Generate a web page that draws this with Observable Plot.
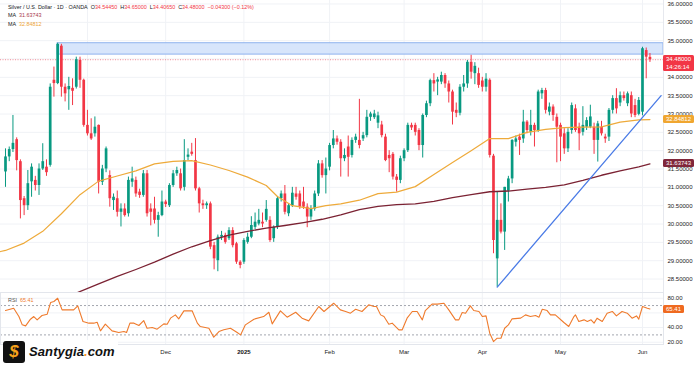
<!DOCTYPE html>
<html><head><meta charset="utf-8">
<script src="https://cdn.jsdelivr.net/npm/d3@7"></script>
<script src="https://cdn.jsdelivr.net/npm/@observablehq/plot@0.6"></script>
<style>
body{margin:0;background:#fff;font-family:"Liberation Sans",Arial,sans-serif;}
#wrap{position:relative;width:700px;height:365px;overflow:hidden;background:#fff;}
.abs{position:absolute;}
.hdr{position:absolute;left:8px;font-size:5.4px;line-height:8px;color:#131722;white-space:nowrap;}
.tag{position:absolute;left:663px;color:#fff;font-size:6px;line-height:8px;padding:0 3px;border-radius:1.5px;white-space:nowrap;}
</style></head><body><div id="wrap"></div>
<script>
// ---------- data ----------
const opens = [31.42,31.83,32.03,32.30,31.70,30.69,30.50,31.15,31.19,31.05,
31.50,31.55,31.60,33.92,33.83,34.85,33.73,33.66,33.70,33.73,
34.46,33.92,32.69,32.46,32.46,32.69,31.14,31.50,31.32,30.64,
30.69,30.32,30.41,30.28,31.14,31.19,30.87,30.78,31.37,30.41,
30.41,30.10,30.23,30.60,30.50,31.05,31.37,31.37,31.00,31.82,
31.96,31.73,30.96,30.55,30.50,30.55,29.41,29.00,29.64,29.69,
29.60,29.82,29.46,28.96,28.96,29.50,29.64,29.91,30.00,30.05,
30.10,30.10,29.60,29.91,30.69,30.82,30.28,30.50,30.82,30.82,
30.60,30.46,30.19,30.41,30.82,31.64,31.32,31.55,32.14,32.32,
32.23,31.78,32.10,31.87,32.28,32.28,32.32,32.41,32.91,32.90,
32.75,32.70,32.37,31.87,31.90,31.28,31.19,31.78,32.00,32.69,
32.69,32.55,32.14,32.96,33.28,33.91,33.87,33.87,34.05,33.82,
33.60,33.10,33.02,33.73,33.82,34.41,34.10,34.10,33.90,33.73,
33.92,31.85,29.05,30.10,29.78,30.90,31.23,32.23,32.37,32.32,
32.78,32.50,32.69,32.55,33.55,33.64,33.05,33.19,32.91,32.69,
32.46,32.05,32.55,33.14,32.64,32.50,32.64,32.64,32.64,32.28,
32.64,32.37,32.37,33.10,33.42,33.30,33.50,33.28,33.50,33.23,
32.99,33.05,34.73,34.5445];
const highs = [32.05,32.10,32.96,32.35,31.75,30.75,31.46,31.64,31.30,31.64,
32.19,31.75,33.82,34.28,34.93,34.90,33.82,34.00,33.96,34.55,
34.55,33.95,33.10,32.87,32.92,32.70,31.60,32.10,31.45,30.82,
30.90,30.55,30.55,31.28,31.55,31.28,30.95,31.46,31.46,30.55,
30.73,30.32,30.90,30.65,31.10,31.46,31.55,31.50,32.30,32.05,
32.20,32.33,31.00,30.65,30.60,30.60,29.50,29.70,29.80,29.75,
29.90,29.90,29.50,29.00,29.60,29.75,30.20,30.30,30.40,30.30,
30.64,30.20,29.95,30.75,30.90,31.05,30.55,31.00,31.00,30.90,
31.00,30.55,30.50,30.90,31.73,31.73,31.80,32.20,32.55,32.40,
32.30,32.05,32.40,32.35,32.45,33.40,32.50,33.10,33.05,33.10,
33.05,32.80,32.45,32.00,31.95,31.35,31.85,32.05,32.75,32.75,
32.75,32.60,33.00,33.35,33.95,34.10,34.00,34.14,34.10,33.90,
33.65,33.30,33.80,34.05,34.46,34.60,34.40,34.25,34.00,34.10,
33.96,31.90,30.87,30.55,31.00,31.30,32.30,32.40,32.45,33.10,
32.82,33.10,32.75,33.65,33.70,33.70,33.30,33.25,33.00,32.75,
32.60,32.60,33.30,33.25,32.75,33.20,32.90,33.24,32.75,32.80,
32.80,32.45,33.15,33.50,33.69,33.60,33.60,33.60,33.60,33.40,
33.45,34.82,34.80,34.65];
const lows = [31.00,31.70,31.95,31.45,30.14,30.23,30.37,30.73,30.90,30.78,
31.46,31.30,31.55,33.46,33.80,33.46,33.33,33.10,33.23,33.68,
33.70,32.64,32.40,32.28,32.37,30.82,31.05,31.40,30.46,30.37,
30.19,29.92,30.19,30.19,31.00,30.73,30.70,30.73,30.19,29.95,
30.00,29.64,30.20,30.45,30.45,31.00,31.30,30.90,30.90,31.73,
31.85,30.90,30.30,30.40,30.40,29.30,28.75,28.70,29.55,29.45,
29.55,29.35,28.90,28.78,28.90,29.45,29.60,29.85,29.95,29.90,
30.05,29.50,29.50,29.85,30.60,30.25,30.20,30.45,30.65,30.40,
30.40,29.90,30.10,30.35,30.75,31.25,30.82,31.45,32.05,32.15,
31.28,31.70,31.28,31.80,32.20,32.05,32.25,32.35,32.80,32.85,
32.60,32.35,31.70,31.40,31.20,30.87,31.10,31.70,31.95,32.55,
32.40,32.00,31.80,32.90,33.20,33.60,33.50,33.80,33.70,33.30,
32.70,32.90,32.95,33.60,33.70,33.95,33.80,33.70,33.60,33.60,
31.80,29.19,28.28,29.73,29.28,30.60,31.10,32.10,31.87,32.20,
32.46,32.40,32.10,32.50,33.40,33.00,32.95,32.80,31.67,31.70,
31.90,31.95,32.45,32.50,32.00,32.40,32.55,32.60,31.90,31.69,
32.40,32.20,32.25,33.00,33.00,33.20,33.35,33.20,32.90,32.90,
32.95,32.95,33.96,34.4065];
const closes = [31.83,32.03,32.20,31.73,30.64,30.50,31.10,31.55,31.05,31.50,
31.70,31.40,33.73,33.83,34.90,33.73,33.55,33.75,33.62,34.48,
33.92,32.69,32.46,32.32,32.64,31.14,31.50,32.05,30.69,30.73,
30.32,30.41,30.23,31.19,31.23,30.82,30.78,31.37,30.28,30.32,
30.10,30.23,30.60,30.53,31.05,31.37,31.46,30.96,31.73,31.88,
31.90,30.96,30.55,30.50,30.55,29.37,29.05,29.64,29.69,29.50,
29.82,29.41,28.96,28.87,29.55,29.64,29.96,30.05,30.10,30.00,
30.40,29.55,29.91,30.69,30.82,30.32,30.50,30.84,30.73,30.46,
30.46,30.19,30.41,30.82,31.64,31.32,31.50,32.14,32.32,32.23,
31.78,31.87,31.82,32.28,32.37,32.14,32.41,32.91,33.00,33.00,
32.95,32.41,31.73,31.78,31.28,31.19,31.78,32.00,32.69,32.62,
32.50,32.14,32.96,33.28,33.91,33.82,33.93,34.05,33.82,33.60,
33.05,33.02,33.73,33.82,34.41,34.14,34.30,33.78,33.73,33.95,
31.87,29.55,30.10,29.78,31.00,31.23,32.28,32.32,32.28,32.78,
32.55,32.69,32.55,33.60,33.64,33.10,33.19,32.96,32.64,32.37,
32.05,32.50,33.23,32.55,32.46,32.69,32.82,32.92,32.28,32.73,
32.46,32.32,33.10,33.42,33.14,33.50,33.42,33.55,33.00,32.96,
33.37,34.78,34.55,34.48];

// moving averages, read as [bar, value]
const ma50 = [[-1.34,29.25],[0,29.28],[5,29.48],[10,29.8],[15,30.28],[20,30.8],[25,31.17],[30,31.31],
[35,31.45],[40,31.64],[45,31.71],[50,31.73],[55,31.61],[60,31.46],[65,31.28],[70,31.05],
[73,30.75],[77,30.5],[82,30.42],[86,30.5],[90,30.55],[95,30.65],[100,30.83],[105,30.87],
[110,31.02],[115,31.35],[120,31.68],[125,32.0],[130,32.33],[135,32.33],[140,32.5],[145,32.58],
[150,32.63],[155,32.64],[160,32.65],[165,32.78],[170,32.84],[173,32.848]];
const ma200 = [[19.3,28.13],[25,28.37],[30,28.57],[35,28.76],[40,28.96],[45,29.18],[50,29.38],
[55,29.55],[60,29.7],[65,29.8],[70,29.89],[75,29.96],[80,30.04],[85,30.13],[90,30.25],
[95,30.39],[100,30.48],[105,30.53],[110,30.55],[115,30.62],[120,30.72],[125,30.8],[130,30.88],
[135,30.9],[140,30.95],[145,31.0],[150,31.07],[155,31.19],[160,31.33],[165,31.45],[170,31.56],[173,31.637]];
const trendLine = [[132,28.28],[176,33.5]];
const zoneBars = [14, 176.64];
const zonePrices = [34.62, 34.93];
const lastPrice = 34.48;
const ma200Last = 31.63743, ma50Last = 32.84812, rsiLast = 65.41;

const rsi = [[0,63.2],[2.2,66.4],[3.6,55],[4.5,43.7],[5.4,42.3],[6.7,51.4],[7.6,55],[8.5,50.5],[9.8,56.4],
[11.2,58.2],[12.1,74.1],[13,75.5],[14,80],[15.2,64.1],[16.6,64.1],[18.3,64.1],[19.4,69.6],[20.8,48.2],
[22.4,46],[23.7,46],[24.6,47.3],[25.5,35.5],[26.8,44.6],[28.6,35.5],[30.4,33.2],[31.8,34.6],[32.5,33.2],
[33.4,46],[34.5,46],[35.8,42.8],[37.1,49.6],[38,39.1],[39.4,40.1],[40.7,37.8],[42.5,45],[43.4,44.6],
[44.3,52.8],[45.6,57.3],[46.5,51.9],[47.9,62.8],[50.1,62.8],[51.5,46],[52.3,41.4],[54.6,39.1],
[55.9,26.9],[57.3,34.6],[58.6,36.9],[60.4,39.1],[62.2,33.2],[63.1,30],[64.4,43.7],[66.7,51.4],
[69.3,55],[70.7,60.9],[71.6,45],[73.8,62.8],[75.6,54.1],[77.9,60.9],[79.6,52.8],[81.4,49.1],
[84.1,68.7],[85.5,61.9],[88.1,73.2],[89.9,64.1],[91.3,61.9],[92.6,59.6],[94,65],[95.7,61.9],
[97.5,71],[98.9,68.7],[99.6,68.7],[100.7,57.3],[101.6,55],[102.9,44.6],[103.8,46],[105.6,36.9],
[106.5,36.9],[107.8,52.8],[109.2,61.9],[110.5,61.9],[111.9,50.5],[112.7,63.2],[114.5,71.9],
[115.9,71.9],[117.7,73.2],[119,64.1],[120.8,50.5],[121.7,50.5],[122.6,60.5],[123.5,59.6],
[124.8,69.6],[125.7,63.2],[127.1,61.9],[128,55],[129,55.9],[130,32.3],[131,20.9],[132,25.5],
[133,25.5],[134,39.1],[135,43.7],[136,51.9],[138.3,52.8],[139.6,57.3],[140.9,55],[142.3,56.4],
[143.2,54.1],[144.1,65],[145.4,63.2],[146.3,57.3],[147.6,57.3],[149.9,46.9],[151.2,41.4],
[152.6,55],[153,57.3],[153.9,48.2],[155.3,50.5],[156.2,48.2],[157.2,50.5],[158,46],[158.8,52.8],
[160.2,48.2],[161.5,59.6],[162.9,61.9],[164,55.9],[165.5,61.9],[166.9,59.6],[168.2,52.8],
[169.4,55.9],[170,51.4],[171,68.7],[172.3,66.4],[173,65.41]];

const monthTickBars = [22, 43, 64, 87, 107, 128, 149, 171];
const monthTickLabels = ["", "Dec", "2025", "Feb", "Mar", "Apr", "May", "Jun"];
const priceTicks = [28.5,29,29.5,30,30.5,31,31.5,32,32.5,33,33.5,34,34.5,35,35.5,36];
const rsiTicks = [20,40,60,80];
const rsiTickLabelsShown = [20,40,80];   // 60.00 sits under the RSI value tag
const rsiLevels = [30,70];

// ---------- layout ----------
const xDomain = [-1.342, 176.64];
const priceDomain = [28.133, 36.095];
const rsiDomain = [16.9, 87.8];
const UP = "#089981", DOWN = "#f23645";
const GRID = "#f0f2f6";
const FONT = "Liberation Sans, Arial, sans-serif";

const candles = opens.map((o, i) => ({i, o, h: highs[i], l: lows[i], c: closes[i]}));
const col = d => d.c >= d.o ? UP : DOWN;
const minBody = 0.03;
const bLo = d => { const lo = Math.min(d.o, d.c), hi = Math.max(d.o, d.c); return hi - lo < minBody ? (lo + hi) / 2 - minBody / 2 : lo; };
const bHi = d => { const lo = Math.min(d.o, d.c), hi = Math.max(d.o, d.c); return hi - lo < minBody ? (lo + hi) / 2 + minBody / 2 : hi; };
const labelOf = new Map(monthTickBars.map((b, k) => [b, monthTickLabels[k]]));

const wrap = document.getElementById("wrap");

const pricePlot = Plot.plot({
  width: 700, height: 292,
  marginLeft: 0, marginRight: 37, marginTop: 0, marginBottom: 0,
  style: {fontFamily: FONT, background: "transparent", overflow: "visible"},
  x: {domain: xDomain, axis: null},
  y: {domain: priceDomain, axis: null},
  marks: [
    Plot.gridY(priceTicks, {stroke: GRID, strokeOpacity: 1}),
    Plot.gridX(monthTickBars, {stroke: GRID, strokeOpacity: 1}),
    Plot.rect([0], {x1: () => zoneBars[0], x2: () => zoneBars[1], y1: () => zonePrices[0], y2: () => zonePrices[1],
      fill: "#d3e2fb", fillOpacity: 0.9, stroke: "#8fb2ee", strokeWidth: 1}),
    Plot.ruleY([lastPrice], {stroke: DOWN, strokeOpacity: 0.55, strokeDasharray: "1,1.5", strokeWidth: 1}),
    Plot.ruleX(candles, {x: "i", y1: "l", y2: "h", stroke: col, strokeWidth: 1}),
    Plot.ruleX(candles, {x: "i", y1: bLo, y2: bHi, stroke: col, strokeWidth: 2.7}),
    Plot.line(ma50, {x: d => d[0], y: d => d[1], stroke: "#eeaa3a", strokeWidth: 1.2, clip: true}),
    Plot.line(ma200, {x: d => d[0], y: d => d[1], stroke: "#7b2233", strokeWidth: 1.3, clip: true}),
    Plot.line(trendLine, {x: d => d[0], y: d => d[1], stroke: "#4a7be6", strokeWidth: 1.3}),
    Plot.axisY(priceTicks, {anchor: "right", tickSize: 0, tickPadding: 4, tickFormat: d3.format(".5f"),
      fontSize: 6, fill: "#222"})
  ]
});
pricePlot.style.position = "absolute"; pricePlot.style.left = "0px"; pricePlot.style.top = "0px";
wrap.appendChild(pricePlot);

const rsiPlot = Plot.plot({
  width: 700, height: 73,
  marginLeft: 0, marginRight: 37, marginTop: 0, marginBottom: 21,
  style: {fontFamily: FONT, background: "transparent", overflow: "visible"},
  x: {domain: xDomain, axis: null},
  y: {domain: rsiDomain, axis: null},
  marks: [
    Plot.gridX(monthTickBars, {stroke: GRID, strokeOpacity: 1}),
    Plot.gridY(rsiTicks, {stroke: GRID, strokeOpacity: 1}),
    Plot.ruleY(rsiLevels, {stroke: "#a3a6af", strokeDasharray: "2,2", strokeWidth: 1}),
    Plot.line(rsi, {x: d => d[0], y: d => d[1], stroke: "#ef7b2d", strokeWidth: 1.1}),
    Plot.frame({stroke: "#e3e6ec"}),
    Plot.axisY(rsiTickLabelsShown, {anchor: "right", tickSize: 0, tickPadding: 4, tickFormat: d3.format(".2f"), fontSize: 6, fill: "#222"}),
    Plot.axisX(monthTickBars.filter(b => labelOf.get(b) !== "2025"), {anchor: "bottom", tickSize: 0, tickPadding: 5,
      tickFormat: b => labelOf.get(b), fontSize: 6, fill: "#222"}),
    Plot.axisX(monthTickBars.filter(b => labelOf.get(b) === "2025"), {anchor: "bottom", tickSize: 0, tickPadding: 5,
      tickFormat: b => labelOf.get(b), fontSize: 6, fill: "#111", fontWeight: "bold"})
  ]
});
rsiPlot.style.position = "absolute"; rsiPlot.style.left = "0px"; rsiPlot.style.top = "292px";
wrap.appendChild(rsiPlot);

// right-edge separator of the price pane
const sep = document.createElement("div");
sep.className = "abs";
sep.style.cssText = "left:663px;top:0;width:1px;height:292px;background:#e6e8ee;";
wrap.appendChild(sep);

// axis value tags, placed with the plots' own scales
const yP = pricePlot.scale("y"), yR = rsiPlot.scale("y");
function tag(html, yCenter, bg, h) {
  const d = document.createElement("div");
  d.className = "tag";
  d.style.background = bg;
  d.style.top = (yCenter - 4) + "px";
  if (h) d.style.height = h + "px";
  d.innerHTML = html;
  wrap.appendChild(d);
  return d;
}
tag(d3.format(".5f")(lastPrice) + "<br>14:26:14", yP.apply(lastPrice), "#f23645", 16);
tag(d3.format(".5f")(ma50Last), yP.apply(ma50Last), "#f0a630");
tag(d3.format(".5f")(ma200Last), yP.apply(ma200Last), "#80263a");
tag(d3.format(".2f")(rsiLast), 292 + yR.apply(rsiLast) + 1, "#ef6a20");

// header legend
const red = "#f23645";
const hdr = document.createElement("div");
hdr.className = "hdr";
hdr.style.top = "2.5px";
hdr.innerHTML =
  `Silver / U.S. Dollar · 1D · OANDA&nbsp; O<span style="color:${red}">34.54450</span>&nbsp; H<span style="color:${red}">34.65000</span>&nbsp; L<span style="color:${red}">34.40650</span>&nbsp; C<span style="color:${red}">34.48000</span>&nbsp; <span style="color:${red}">−0.04300 (−0.12%)</span>` +
  `<br>MA&nbsp; <span style="color:#a8374a">${ma200Last}</span>` +
  `<br>MA&nbsp; <span style="color:#eea536">${ma50Last}</span>`;
hdr.style.lineHeight = "8.7px";
wrap.appendChild(hdr);

const rsiHdr = document.createElement("div");
rsiHdr.className = "hdr";
rsiHdr.style.top = "295.5px";
rsiHdr.innerHTML = `<span style="color:#555">RSI</span>&nbsp; <span style="color:#ef7b2d">${rsiLast}</span>`;
wrap.appendChild(rsiHdr);

// logo
const logo = document.createElement("div");
logo.className = "abs";
logo.style.cssText = "left:3px;top:340px;height:23px;display:flex;align-items:center;background:#fff;padding-right:3px;";
logo.innerHTML =
  `<div style="width:22px;height:22px;background:#111;border-radius:3px;display:flex;align-items:center;justify-content:center;color:#f7a21b;font:italic bold 17px 'Liberation Sans',Arial,sans-serif;">$</div>` +
  `<span style="margin-left:4px;font:italic bold 13px 'Liberation Sans',Arial,sans-serif;color:#111;letter-spacing:0.1px;">Santygia<span style="color:#f7931e">.</span>com</span>`;
wrap.appendChild(logo);
</script></body></html>
